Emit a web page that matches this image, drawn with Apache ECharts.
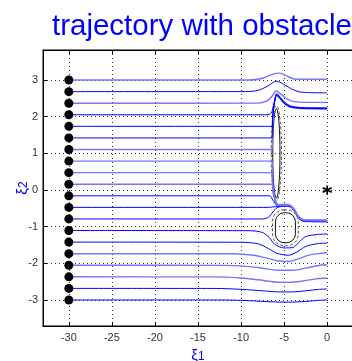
<!DOCTYPE html>
<html>
<head>
<meta charset="utf-8">
<script src="https://cdn.jsdelivr.net/npm/echarts@6/dist/echarts.min.js"></script>
<style>
html, body { margin: 0; padding: 0; background: #fff; }
#chart_1 { width: 352px; height: 361px; }
</style>
</head>
<body>
<div id="chart_1"></div>
<script>
// tick labels
var xTicks = [-30, -25, -20, -15, -10, -5, 0];
var yTicks = [-3, -2, -1, 0, 1, 2, 3];

// start points of the trajectories
var startX = [-30, -30, -30, -30, -30, -30, -30, -30, -30, -30, -30, -30, -30, -30, -30, -30, -30, -30, -30, -30];
var startY = [-3, -2.684, -2.368, -2.053, -1.737, -1.421, -1.105, -0.789, -0.474, -0.158,
              0.158, 0.474, 0.789, 1.105, 1.421, 1.737, 2.053, 2.368, 2.684, 3];

// target point
var goal = [0, 0];

// obstacles: centre, half sizes, outline kind
var obsX = [-5.9, -5.9, -4.85, -4.85];
var obsY = [1.0, 1.0, -1.03, -1.03];
var obsRx = [0.42, 0.6, 1.16, 1.5];
var obsRy = [1.22, 1.3, 0.41, 0.49];
var obsShape = ['ellipse', 'ellipse', 'round', 'round'];
var obsDashed = [false, true, false, true];

// trajectories, bottom to top
var trajectories = [
    [[-30,-3],[-12,-3],[-9,-3.02],[-6.5,-3.05],[-4.5,-3.06],[-2.5,-3.04],[-1,-3.01],[0,-3]],
    [[-30,-2.684],[-13,-2.685],[-10,-2.71],[-7.5,-2.75],[-5.5,-2.78],[-4,-2.78],[-2.5,-2.75],[-1,-2.71],[0,-2.7]],
    [[-30,-2.368],[-13,-2.37],[-10,-2.4],[-8,-2.45],[-6,-2.51],[-4.5,-2.52],[-3,-2.49],[-1.5,-2.43],[0,-2.4]],
    [[-30,-2.053],[-12,-2.055],[-9,-2.09],[-7,-2.15],[-5.5,-2.19],[-4,-2.19],[-2.5,-2.13],[-1,-2.06],[0,-2.04]],
    [[-30,-1.737],[-11,-1.74],[-8.5,-1.78],[-7,-1.86],[-5.8,-1.93],[-4.5,-1.95],[-3.3,-1.87],[-2,-1.77],[-0.5,-1.72],[0,-1.71]],
    [[-30,-1.421],[-10,-1.425],[-8,-1.47],[-6.8,-1.6],[-5.8,-1.73],[-4.5,-1.78],[-3.5,-1.69],[-2.5,-1.54],[-1,-1.46],[0,-1.45]],
    [[-30,-1.105],[-9,-1.11],[-7.5,-1.16],[-6.7,-1.3],[-6.1,-1.48],[-5,-1.58],[-4,-1.57],[-3.3,-1.43],[-2.5,-1.27],[-1,-1.21],[0,-1.2]],
    [[-30,-0.789],[-7.5,-0.79],[-6.8,-0.74],[-6.3,-0.6],[-5.8,-0.48],[-5,-0.44],[-4.3,-0.46],[-3.8,-0.58],[-3.3,-0.78],[-2.6,-0.86],[0,-0.87]],
    [[-30,-0.474],[-6.8,-0.474],[-6.3,-0.46],[-5.8,-0.45],[-5,-0.43],[-4.3,-0.45],[-3.8,-0.57],[-3.3,-0.77],[-2.6,-0.85],[0,-0.86]],
    [[-30,-0.158],[-6.7,-0.158],[-6.3,-0.28],[-5.8,-0.42],[-5,-0.42],[-4.3,-0.44],[-3.8,-0.56],[-3.3,-0.76],[-2.6,-0.84],[0,-0.85]],
    [[-30,0.158],[-6.4,0.158],[-6.3,-0.05],[-6.1,-0.25],[-5.8,-0.41],[-5,-0.41],[-4.3,-0.43],[-3.8,-0.55],[-3.3,-0.75],[-2.6,-0.83],[0,-0.84]],
    [[-30,0.474],[-6.4,0.474],[-6.35,0.2],[-6.25,-0.05],[-6.05,-0.27],[-5.8,-0.4],[-5,-0.4],[-4.3,-0.42],[-3.8,-0.54],[-3.3,-0.74],[-2.6,-0.82],[0,-0.83]],
    [[-30,0.789],[-6.4,0.789],[-6.35,0.4],[-6.3,0.1],[-6.15,-0.15],[-5.95,-0.33],[-5.6,-0.4],[-5,-0.39],[-4.3,-0.41],[-3.8,-0.53],[-3.3,-0.73],[-2.6,-0.81],[0,-0.82]],
    [[-30,1.105],[-6.4,1.105],[-6.35,1.6],[-6.3,2.0],[-6.15,2.35],[-5.9,2.58],[-5.5,2.5],[-5,2.36],[-4.3,2.26],[-3,2.22],[0,2.21]],
    [[-30,1.421],[-6.4,1.421],[-6.35,1.8],[-6.28,2.1],[-6.12,2.38],[-5.88,2.6],[-5.5,2.51],[-5,2.37],[-4.3,2.27],[-3,2.23],[0,2.22]],
    [[-30,1.737],[-6.4,1.737],[-6.35,1.95],[-6.25,2.2],[-6.1,2.4],[-5.87,2.61],[-5.5,2.52],[-5,2.38],[-4.3,2.28],[-3,2.24],[0,2.23]],
    [[-30,2.053],[-7,2.053],[-6.5,2.1],[-6.25,2.3],[-6.05,2.48],[-5.85,2.63],[-5.45,2.53],[-4.9,2.39],[-4.2,2.29],[-3,2.25],[0,2.24]],
    [[-30,2.368],[-8,2.37],[-7,2.43],[-6.4,2.56],[-5.9,2.7],[-5.3,2.6],[-4.6,2.48],[-3.9,2.41],[-2,2.39],[0,2.39]],
    [[-30,2.684],[-9.5,2.685],[-8,2.72],[-6.8,2.85],[-5.9,2.97],[-5,2.88],[-4,2.74],[-3,2.67],[0,2.65]],
    [[-30,3],[-9,3],[-7.5,3.05],[-6.2,3.17],[-5.5,3.19],[-4.6,3.1],[-3.8,3.03],[0,3.02]]
];

// some lines look lighter in the picture
var lineTone = ['d','d','l','l','l','d','d','d','d','d','l','l','l','l','d','d','d','l','d','l'];

function initTrajectoryChart() {
    var myChart = echarts.init(document.getElementById('chart_1'));
    var fontName = 'Liberation Sans, Arial, sans-serif';
    var series = [];

    // obstacles
    var obsData = [];
    for (var k = 0; k < obsX.length; k++) {
        obsData.push([obsX[k], obsY[k], obsRx[k], obsRy[k], k]);
    }
    series.push({
        type: 'custom',
        coordinateSystem: 'cartesian2d',
        silent: true,
        z: 3,
        data: obsData,
        renderItem: function (params, api) {
            var idx = api.value(4);
            var c = api.coord([api.value(0), api.value(1)]);
            var s = api.size([api.value(2), api.value(3)]);
            var style = {
                fill: 'none',
                stroke: obsDashed[idx] ? '#555' : '#111',
                lineWidth: 1,
                lineDash: obsDashed[idx] ? [3, 2] : null
            };
            if (obsShape[idx] === 'ellipse') {
                return { type: 'ellipse', shape: { cx: c[0], cy: c[1], rx: s[0], ry: s[1] }, style: style };
            }
            return {
                type: 'rect',
                shape: { x: c[0] - s[0], y: c[1] - s[1], width: 2 * s[0], height: 2 * s[1], r: Math.min(s[0], s[1]) * 0.9 },
                style: style
            };
        }
    });

    // trajectories
    for (var i = 0; i < trajectories.length; i++) {
        series.push({
            type: 'line',
            data: trajectories[i],
            showSymbol: false,
            smooth: 0.3,
            silent: true,
            z: 4,
            lineStyle: {
                color: lineTone[i] === 'd' ? '#0000ff' : '#7575ff',
                width: lineTone[i] === 'd' ? 1 : 1.4
            }
        });
    }

    // start dots
    var dots = [];
    for (var j = 0; j < startX.length; j++) dots.push([startX[j], startY[j]]);
    series.push({
        type: 'scatter',
        data: dots,
        symbol: 'circle',
        symbolSize: 9,
        z: 6,
        itemStyle: { color: '#000', opacity: 1 }
    });

    // goal asterisk
    series.push({
        type: 'scatter',
        data: [goal],
        symbol: 'path://M5 0 L5 10 M0.67 2.5 L9.33 7.5 M0.67 7.5 L9.33 2.5',
        symbolSize: 9,
        z: 6,
        itemStyle: { color: 'none', borderColor: '#000', borderWidth: 1.8, opacity: 1 }
    });

    var option = {
        animation: false,
        backgroundColor: '#fff',
        title: {
            text: 'trajectory with obstacle',
            left: 197,
            textAlign: 'center',
            top: 7,
            textStyle: { color: '#0000ff', fontSize: 29.5, fontWeight: 'normal', fontFamily: fontName }
        },
        grid: {
            left: 43, top: 50, width: 310, height: 276,
            containLabel: false,
            outerBoundsMode: 'none',
            show: true, borderColor: '#000', borderWidth: 1, backgroundColor: 'transparent'
        },
        xAxis: [{
            type: 'value', min: -33, max: 3,
            name: '{g|ξ}{s|1}',
            nameLocation: 'middle',
            nameGap: 20,
            nameMoveOverlap: false,
            nameTextStyle: {
                rich: {
                    g: { fontSize: 15, color: '#0000ff', fontFamily: fontName, verticalAlign: 'bottom' },
                    s: { fontSize: 12, color: '#0000ff', fontFamily: fontName, verticalAlign: 'bottom', padding: [5, 0, 0, 0] }
                }
            },
            axisLine: { show: true, onZero: false, lineStyle: { color: '#000' } },
            axisTick: { show: true, inside: true, length: 4, customValues: xTicks, lineStyle: { color: '#000' } },
            axisLabel: { customValues: xTicks, margin: 6, color: '#333', fontSize: 11, fontFamily: fontName },
            splitLine: { show: true, lineStyle: { color: '#333', type: [1, 3], width: 1 } }
        }, {
            type: 'value', min: -33, max: 3, position: 'top',
            axisLine: { show: true, onZero: false, lineStyle: { color: '#000' } },
            axisTick: { show: true, inside: true, length: 4, customValues: xTicks, lineStyle: { color: '#000' } },
            axisLabel: { show: false },
            splitLine: { show: false }
        }],
        yAxis: [{
            type: 'value', min: -3.71, max: 3.82,
            name: '{g|ξ}{s|2}',
            nameLocation: 'middle',
            nameGap: 13,
            nameRotate: 90,
            nameMoveOverlap: false,
            nameTextStyle: {
                rich: {
                    g: { fontSize: 15, color: '#0000ff', fontFamily: fontName, verticalAlign: 'bottom' },
                    s: { fontSize: 12, color: '#0000ff', fontFamily: fontName, verticalAlign: 'bottom', padding: [5, 0, 0, 0] }
                }
            },
            axisLine: { show: true, onZero: false, lineStyle: { color: '#000' } },
            axisTick: { show: true, inside: true, length: 4, customValues: yTicks, lineStyle: { color: '#000' } },
            axisLabel: { customValues: yTicks, margin: 5, color: '#333', fontSize: 11, fontFamily: fontName },
            splitLine: { show: true, lineStyle: { color: '#333', type: [1, 3], width: 1 } }
        }],
        series: series
    };
    myChart.setOption(option);
}

initTrajectoryChart();
</script>
</body>
</html>
